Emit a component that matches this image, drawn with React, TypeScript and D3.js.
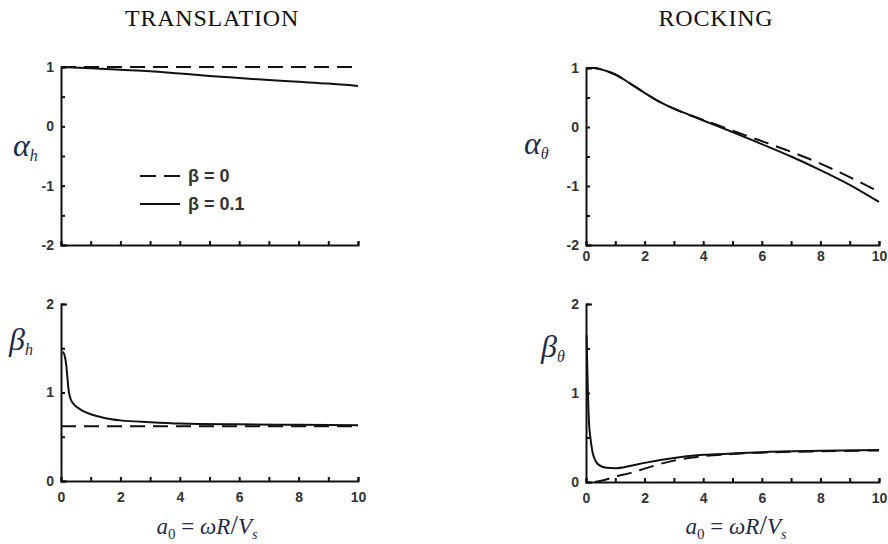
import { useEffect, useRef } from "react";
import * as d3 from "d3";

// frequency a0 = wR/Vs and curves
const alphaHBeta0X = [0, 10];
const alphaHBeta0Y = [1, 1];
const alphaHBeta01X = [0, 1, 2, 3, 4, 5, 6, 7, 8, 9, 10];
const alphaHBeta01Y = [1.0, 0.98, 0.955, 0.93, 0.89, 0.85, 0.815, 0.78, 0.75, 0.72, 0.68];

const alphaTBeta0X = [0, 0.25, 0.5, 0.75, 1, 1.5, 2, 2.5, 3, 3.5, 4, 4.5, 5, 6, 7, 8, 9, 10];
const alphaTBeta0Y = [1.0, 1.0, 0.98, 0.94, 0.89, 0.74, 0.58, 0.43, 0.31, 0.21, 0.12, 0.03, -0.06, -0.24, -0.42, -0.62, -0.85, -1.1];
const alphaTBeta01X = [0, 0.25, 0.5, 0.75, 1, 1.5, 2, 2.5, 3, 3.5, 4, 5, 6, 7, 8, 9, 10];
const alphaTBeta01Y = [1.0, 1.0, 0.98, 0.94, 0.89, 0.74, 0.58, 0.43, 0.31, 0.21, 0.11, -0.085, -0.29, -0.5, -0.73, -0.98, -1.27];

const betaHBeta0X = [0, 10];
const betaHBeta0Y = [0.62, 0.62];
const betaHBeta01X = [0.06, 0.12, 0.18, 0.22, 0.26, 0.32, 0.45, 0.6, 0.8, 1, 1.5, 2, 3, 4, 6, 8, 10];
const betaHBeta01Y = [1.46, 1.42, 1.3, 1.15, 1.02, 0.93, 0.86, 0.82, 0.78, 0.755, 0.71, 0.685, 0.665, 0.65, 0.64, 0.635, 0.63];

const betaTBeta0X = [0.3, 0.6, 1.0, 1.5, 2, 2.5, 3, 4, 5, 6, 8, 10];
const betaTBeta0Y = [0.0, 0.02, 0.06, 0.1, 0.15, 0.2, 0.24, 0.29, 0.315, 0.33, 0.345, 0.355];
const betaTBeta01X = [0.02, 0.05, 0.1, 0.15, 0.22, 0.32, 0.45, 0.7, 1.0, 1.5, 2, 3, 4, 5, 6, 8, 10];
const betaTBeta01Y = [1.65, 1.2, 0.68, 0.5, 0.34, 0.24, 0.19, 0.16, 0.155, 0.18, 0.215, 0.27, 0.305, 0.32, 0.335, 0.35, 0.36];

const legendLabels = ["β = 0", "β = 0.1"];

const ink = "#111";
const labelInk = "#1f2a4a";

function Panel({ x0, x1, yTop, yBottom, yDomain, dashedX, dashedY, solidX, solidY, showXLabels, xPad }) {
  const gx = useRef(null);
  const gy = useRef(null);
  const xScale = d3.scaleLinear().domain([0, 10]).range([x0, x1]);
  const yScale = d3.scaleLinear().domain(yDomain).range([yBottom, yTop]);

  useEffect(() => {
    const fmt = (d) => (Number.isInteger(d) ? String(d).replace("−", "-") : "");
    const xAxis = d3
      .axisBottom(xScale)
      .ticks(10)
      .tickSize(-4)
      .tickSizeOuter(-4)
      .tickPadding(xPad)
      .tickFormat((d) => (showXLabels && d % 2 === 0 ? String(d) : ""));
    const yAxis = d3
      .axisLeft(yScale)
      .tickValues(d3.range(yDomain[0], yDomain[1] + 0.01, 0.5))
      .tickSize(-4)
      .tickSizeOuter(-6)
      .tickPadding(7)
      .tickFormat(fmt);
    const sx = d3.select(gx.current).call(xAxis);
    const sy = d3.select(gy.current).call(yAxis);
    [sx, sy].forEach((s) => {
      s.select(".domain").attr("stroke", ink).attr("stroke-width", 2);
      s.selectAll(".tick line").attr("stroke", ink).attr("stroke-width", 2);
      s.selectAll(".tick text")
        .attr("fill", "#333")
        .attr("font-family", "Liberation Sans, Arial, sans-serif")
        .attr("font-weight", "bold")
        .attr("font-size", 14);
    });
  }, []);

  const line = d3
    .line<number>()
    .x((d) => xScale(d))
    .curve(d3.curveMonotoneX);

  const solidPath = line.y((d, i) => yScale(solidY[i]))(solidX);
  const dashedPath = line.y((d, i) => yScale(dashedY[i]))(dashedX);

  return (
    <g>
      <path d={dashedPath} fill="none" stroke={ink} strokeWidth={2} strokeDasharray="15,8" />
      <path d={solidPath} fill="none" stroke={ink} strokeWidth={2} />
      <g ref={gx} transform={`translate(0,${yBottom})`} />
      <g ref={gy} transform={`translate(${x0},0)`} />
    </g>
  );
}

function AxisTitle({ x, y }) {
  return (
    <text x={x} y={y} textAnchor="middle" fontFamily="Liberation Serif, Times New Roman, serif" fontSize={23} fill={labelInk}>
      <tspan fontStyle="italic">a</tspan>
      <tspan fontSize={15} dy={5}>0</tspan>
      <tspan dy={-5}> = </tspan>
      <tspan fontStyle="italic">ωR</tspan>
      <tspan fontSize={27}>/</tspan>
      <tspan fontStyle="italic">V</tspan>
      <tspan fontStyle="italic" fontSize={14} dy={5}>s</tspan>
    </text>
  );
}

function YTitle({ x, y, sym, sub }) {
  return (
    <text x={x} y={y} fontFamily="Liberation Serif, Times New Roman, serif" fontStyle="italic" fontSize={32} fill={labelInk}>
      {sym}
      <tspan fontSize={16} dy={5}>{sub}</tspan>
    </text>
  );
}

export default function App() {
  const serif = "Liberation Serif, Times New Roman, serif";
  return (
    <svg width={888} height={544} style={{ position: "absolute", left: 0, top: 0, background: "#fff" }}>
      <text x={212} y={26} textAnchor="middle" fontFamily={serif} fontSize={24} letterSpacing={0.8} fill="#111">
        TRANSLATION
      </text>
      <text x={716} y={26} textAnchor="middle" fontFamily={serif} fontSize={24} letterSpacing={0.8} fill="#111">
        ROCKING
      </text>

      <Panel x0={61} x1={358} yTop={67} yBottom={245} yDomain={[-2, 1]}
        dashedX={alphaHBeta0X} dashedY={alphaHBeta0Y} solidX={alphaHBeta01X} solidY={alphaHBeta01Y}
        showXLabels={false} xPad={8} />
      <Panel x0={586} x1={879} yTop={68} yBottom={245} yDomain={[-2, 1]}
        dashedX={alphaTBeta0X} dashedY={alphaTBeta0Y} solidX={alphaTBeta01X} solidY={alphaTBeta01Y}
        showXLabels={true} xPad={6} />
      <Panel x0={61} x1={358} yTop={304} yBottom={481} yDomain={[0, 2]}
        dashedX={betaHBeta0X} dashedY={betaHBeta0Y} solidX={betaHBeta01X} solidY={betaHBeta01Y}
        showXLabels={true} xPad={11} />
      <Panel x0={586} x1={879} yTop={304} yBottom={482} yDomain={[0, 2]}
        dashedX={betaTBeta0X} dashedY={betaTBeta0Y} solidX={betaTBeta01X} solidY={betaTBeta01Y}
        showXLabels={true} xPad={11} />

      <YTitle x={13} y={156} sym="α" sub="h" />
      <YTitle x={524} y={154} sym="α" sub="θ" />
      <YTitle x={9} y={350} sym="β" sub="h" />
      <YTitle x={541} y={357} sym="β" sub="θ" />

      <AxisTitle x={207} y={534} />
      <AxisTitle x={736} y={534} />

      {/* legend */}
      <line x1={140} x2={180} y1={176} y2={176} stroke={ink} strokeWidth={2} strokeDasharray="16,8" />
      <line x1={140} x2={180} y1={204} y2={204} stroke={ink} strokeWidth={2} />
      {legendLabels.map((t, i) => (
        <text key={t} x={188} y={176 + i * 28} dy="0.35em" fontFamily="Liberation Sans, Arial, sans-serif"
          fontWeight="bold" fontSize={18} fill="#333">
          {t}
        </text>
      ))}
    </svg>
  );
}
